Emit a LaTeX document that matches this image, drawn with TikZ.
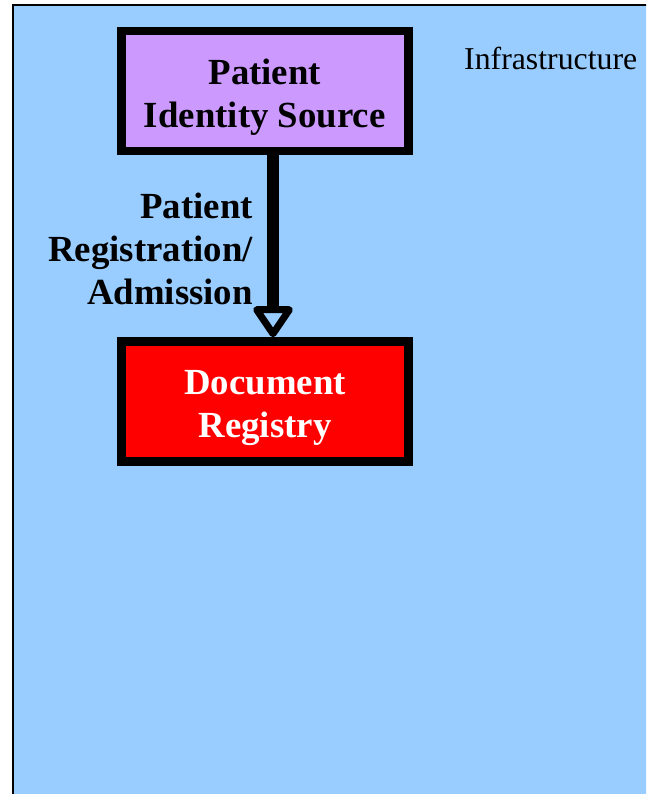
\documentclass[tikz,border=0pt]{standalone}
\usepackage{fontspec}
\setmainfont{Liberation Serif}
\usetikzlibrary{arrows.meta}

\tikzset{
  actorbox/.style={draw, line width=8.5, minimum width=287pt, minimum height=120pt, inner sep=0pt},
  boldtext/.style={font=\bfseries\fontsize{36.8}{43}\selectfont, align=center, inner sep=0pt},
}

\begin{document}
\begin{tikzpicture}[x=1pt,y=1pt,yscale=-1,xscale=1]
        \useasboundingbox (0,0) rectangle (646,794);
        \clip (0,0) rectangle (646,794);
        \draw  [fill={rgb, 255:red, 153; green, 204; blue, 255 }, line width=1.5] (12.75,5.25) rectangle (660,810);
        % actors
        \node (pis) [actorbox, fill={rgb, 255:red, 204; green, 153; blue, 255 }] at (264.75,91.25) {};
        \node (reg) [actorbox, fill={rgb, 255:red, 255; green, 0; blue, 0 }] at (265,401.5) {};
        \node (pistext) [boldtext] at (264.75,97.5) {Patient\\Identity Source};
        \node (regtext) [boldtext, text=white] at (265,408) {Document\\Registry};
        % transaction
        \draw [line width=11.6, -{Triangle[open, length=34pt, width=44pt, line width=7pt, round]}] (pis.south -| 273,0) -- (reg.north -| 273,0);
        \node (trans) [boldtext, align=right, anchor=east] at (253,249) {Patient\\Registration/\\Admission};
        \node (infra) [anchor=base west, inner sep=0pt, font=\fontsize{31.8}{38}\selectfont] at (464,70) {Infrastructure};
\end{tikzpicture}
\end{document}
